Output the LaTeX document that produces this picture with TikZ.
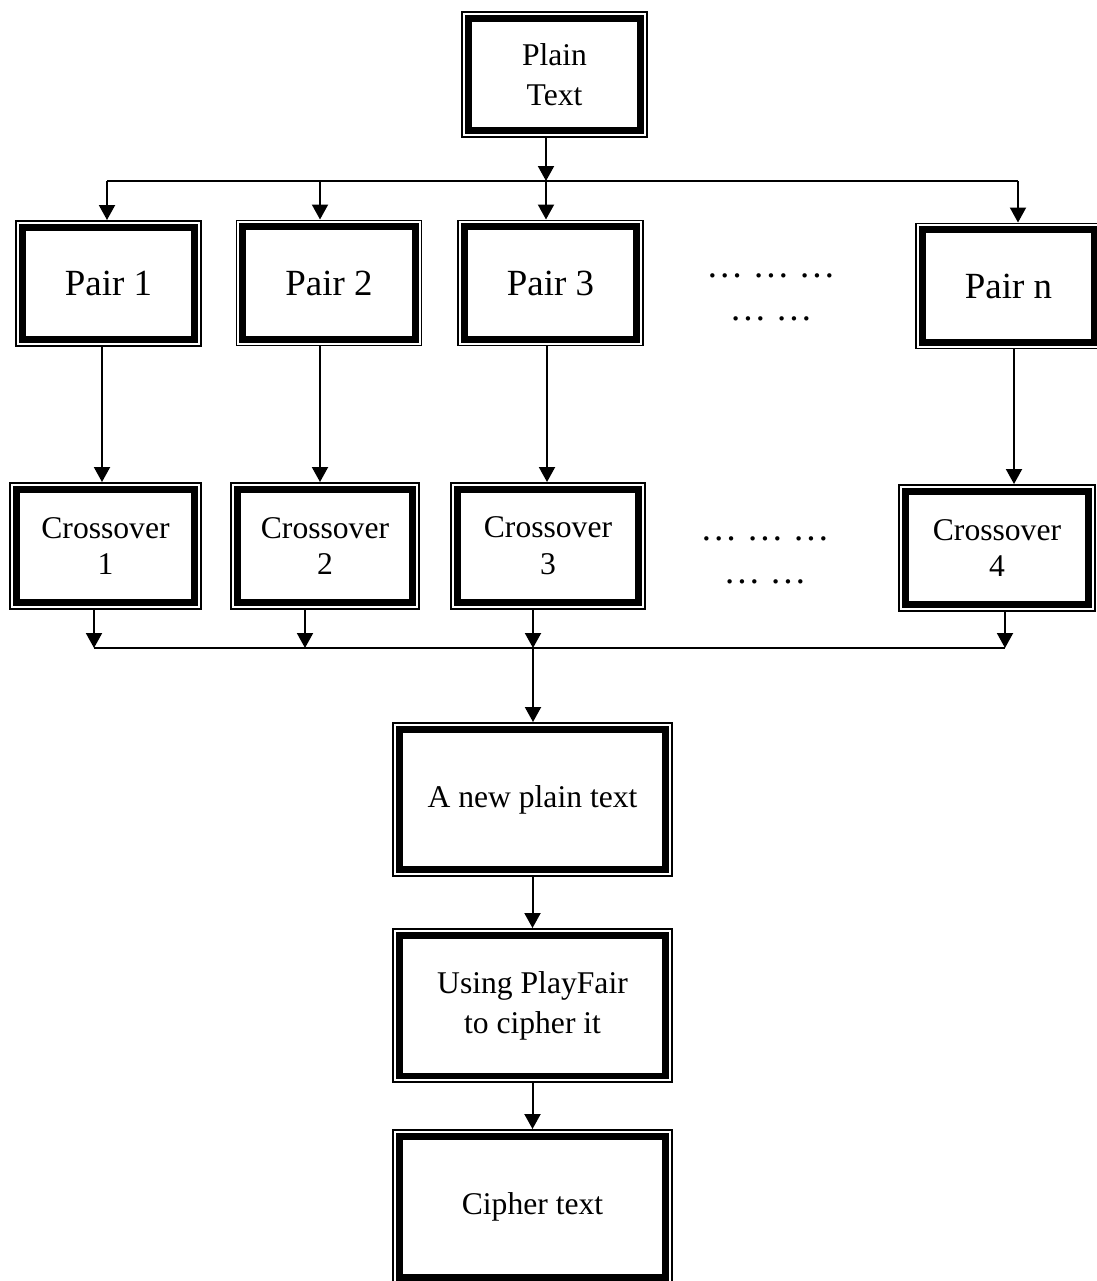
\documentclass[tikz,border=0pt]{standalone}
\usepackage{fontspec}
\setmainfont{Liberation Serif}
\usepackage{tikz}
\usetikzlibrary{arrows.meta}

\begin{document}
\begin{tikzpicture}[
  x=0.02cm, y=-0.02cm,
  framebox/.style={fill=white, draw, line width=0.14cm, inner sep=0pt, outer sep=0.14cm,
    preaction={draw, line width=0.28cm},
    preaction={draw=white, line width=0.208cm},
    align=center},
  ]
  \tikzset{%
    pairbox/.style={framebox, minimum width=3.46cm, minimum height=2.26cm,
      font=\fontsize{21pt}{25pt}\selectfont},
    crossbox/.style={framebox, minimum width=3.6cm, minimum height=2.28cm,
      font=\fontsize{18pt}{21pt}\selectfont},
    stagebox/.style={framebox, minimum width=5.34cm, minimum height=2.82cm,
      font=\fontsize{18pt}{22.8pt}\selectfont},
    gapdots/.style={anchor=base, inner sep=0pt, font=\fontsize{21pt}{24pt}\selectfont},
    flow/.style={-{Triangle[width=0.32cm,length=0.3cm]}, line width=0.04cm},
    bus/.style={line width=0.04cm},
  }
  \useasboundingbox (0,0) rectangle (1097,1281);
  %Nodes
  \node[framebox, minimum width=3.46cm, minimum height=2.26cm,
    font=\fontsize{18pt}{22.8pt}\selectfont] (plain) at (554.5,74.5) {Plain\\Text};
  \node[pairbox] (pair1) at (108.5,283.5) {Pair 1};
  \node[pairbox] (pair2) at (329,283) {Pair 2};
  \node[pairbox] (pair3) at (550.5,283) {Pair 3};
  \node[pairbox] (pairn) at (1008.5,286) {Pair n};
  \node[gapdots] (gapA1) at (771,277) {… … …};
  \node[gapdots] (gapA2) at (771,320) {… …};
  \node[crossbox, minimum width=3.58cm] (cross1) at (105.5,546) {Crossover\\1};
  \node[crossbox, minimum width=3.52cm] (cross2) at (325,546) {Crossover\\2};
  \node[crossbox, minimum width=3.64cm] (cross3) at (548,546) {Crossover\\3};
  \node[crossbox, minimum width=3.68cm] (cross4) at (997,548) {Crossover\\4};
  \node[gapdots] (gapB1) at (765,540) {… … …};
  \node[gapdots] (gapB2) at (765,583) {… …};
  \node[stagebox] (newtext) at (532.5,799.5) {A new plain text};
  \node[stagebox] (playfair) at (532.5,1005.5) {Using PlayFair\\to cipher it};
  \node[stagebox] (cipher) at (532.5,1206.5) {Cipher text};
  %Lines
  \coordinate (s1) at (107,181);
  \coordinate (s2) at (320,181);
  \coordinate (s3) at (546,181);
  \coordinate (s4) at (1018,181);
  \coordinate (m1) at (94,648);
  \coordinate (m2) at (305,648);
  \coordinate (m3) at (533,648);
  \coordinate (m4) at (1005,648);
  \draw[bus] (s1) -- (s4);
  \draw[flow] (plain.south -| s3) -- (s3);
  \foreach \s/\p in {s1/pair1, s2/pair2, s3/pair3, s4/pairn}
    \draw[flow] (\s) -- (\s |- \p.north);
  \foreach \x/\p/\c in {102/pair1/cross1, 320/pair2/cross2, 547/pair3/cross3, 1014/pairn/cross4}
    \draw[flow] (\p.south -| \x,0) -- (\c.north -| \x,0);
  \foreach \m/\c in {m1/cross1, m2/cross2, m3/cross3, m4/cross4}
    \draw[flow] (\c.south -| \m) -- (\m);
  \draw[bus] (m1) -- (m4);
  \draw[flow] (m3) -- (newtext.north -| m3);
  \draw[flow] (newtext) -- (playfair);
  \draw[flow] (playfair) -- (cipher);
\end{tikzpicture}
\end{document}
